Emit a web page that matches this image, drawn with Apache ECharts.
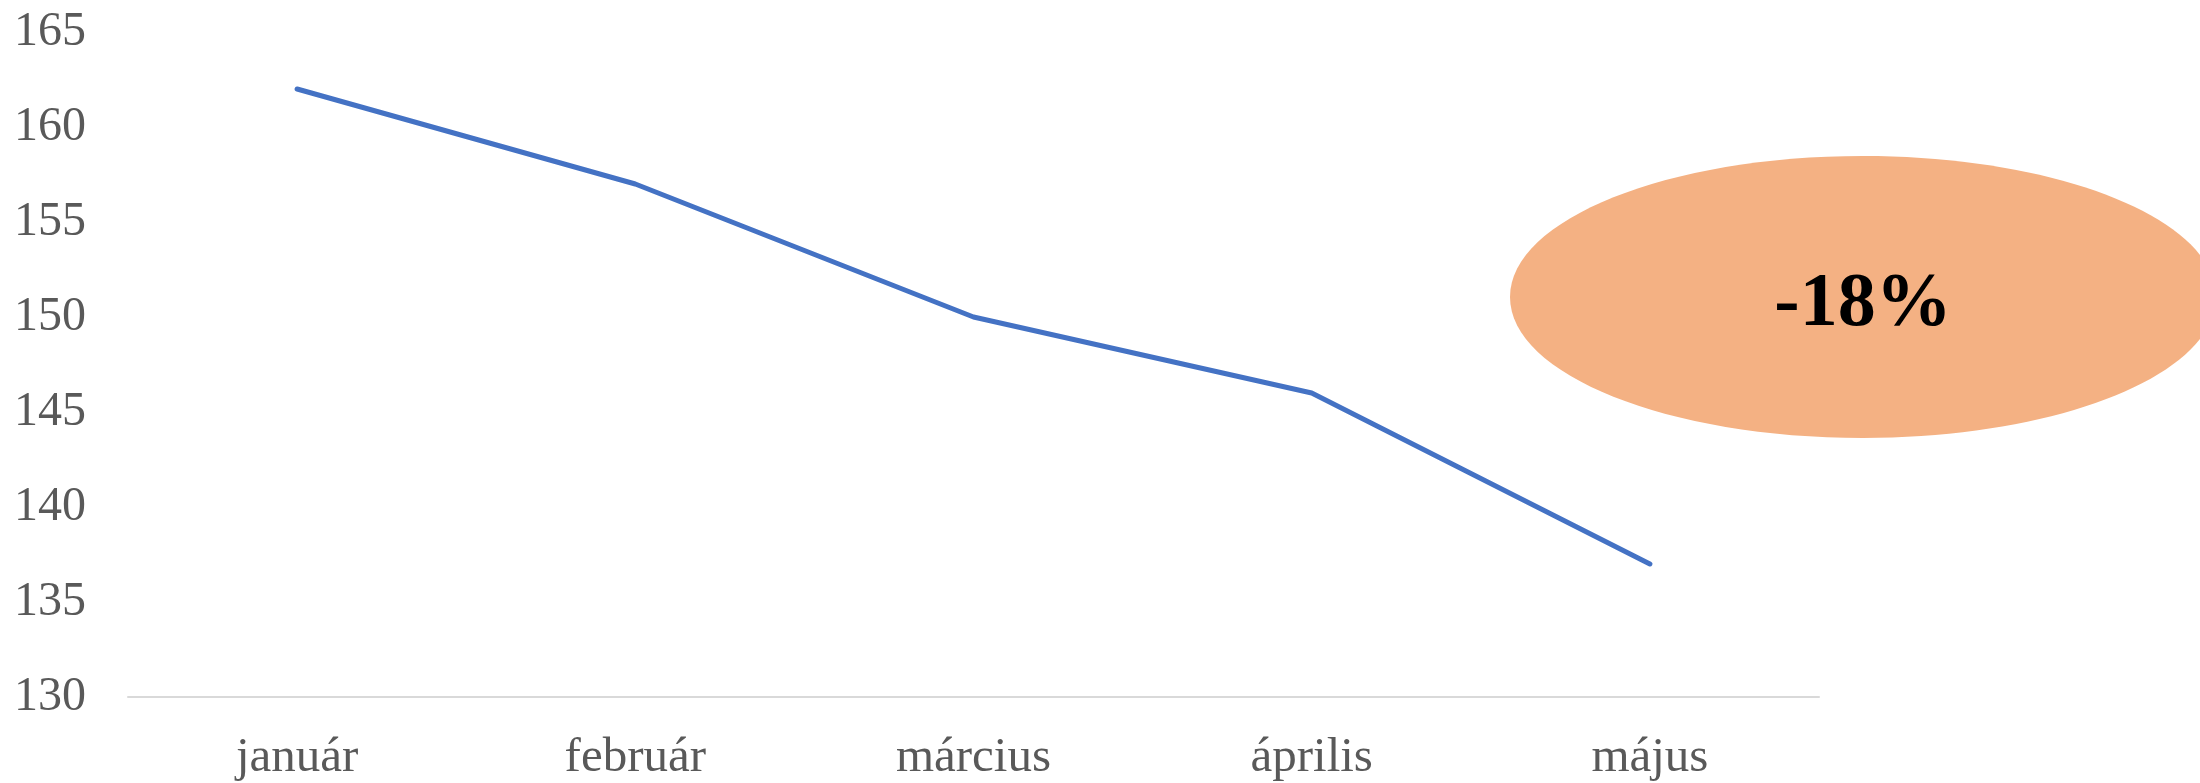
<!DOCTYPE html>
<html>
<head>
<meta charset="utf-8">
<script src="https://cdn.jsdelivr.net/npm/echarts@6/dist/echarts.min.js"></script>
<style>
html,body{margin:0;padding:0;background:#fff;}
#chart{width:2200px;height:783px;}
</style>
</head>
<body>
<div id="chart"></div>
<script>
const categories = ['január', 'február', 'március', 'április', 'május'];
const values = [162, 157, 150, 146, 137];
const yTicks = [130, 135, 140, 145, 150, 155, 160, 165];
const badgeText = '-18%';

const chart = echarts.init(document.getElementById('chart'), null, {renderer: 'canvas'});
const serif = '"Liberation Serif", "Times New Roman", serif';

chart.setOption({
  animation: false,
  backgroundColor: '#ffffff',
  grid: {left: 128, right: 381, top: 32, bottom: 83, containLabel: false},
  xAxis: {
    type: 'category',
    data: categories,
    boundaryGap: true,
    axisLine: {show: true, lineStyle: {color: '#d9d9d9', width: 2}},
    axisTick: {show: false},
    axisLabel: {color: '#595959', fontFamily: serif, fontSize: 49, margin: 37}
  },
  yAxis: {
    type: 'value',
    min: yTicks[0],
    max: yTicks[yTicks.length - 1],
    interval: 5,
    axisLine: {show: false},
    axisTick: {show: false},
    splitLine: {show: false},
    axisLabel: {color: '#595959', fontFamily: serif, fontSize: 48, margin: 42}
  },
  series: [{
    type: 'line',
    data: values,
    symbol: 'none',
    lineStyle: {color: '#4472c4', width: 5, cap: 'round', join: 'round'}
  }],
  graphic: [{
    type: 'ellipse',
    shape: {cx: 1863, cy: 297, rx: 353, ry: 141},
    style: {fill: '#f4b183'},
    z: 10
  }, {
    type: 'text',
    x: 1863,
    y: 305,
    style: {
      text: badgeText,
      fill: '#000000',
      font: 'bold 76px ' + serif,
      align: 'center',
      verticalAlign: 'middle'
    },
    z: 11
  }]
});
</script>
</body>
</html>
